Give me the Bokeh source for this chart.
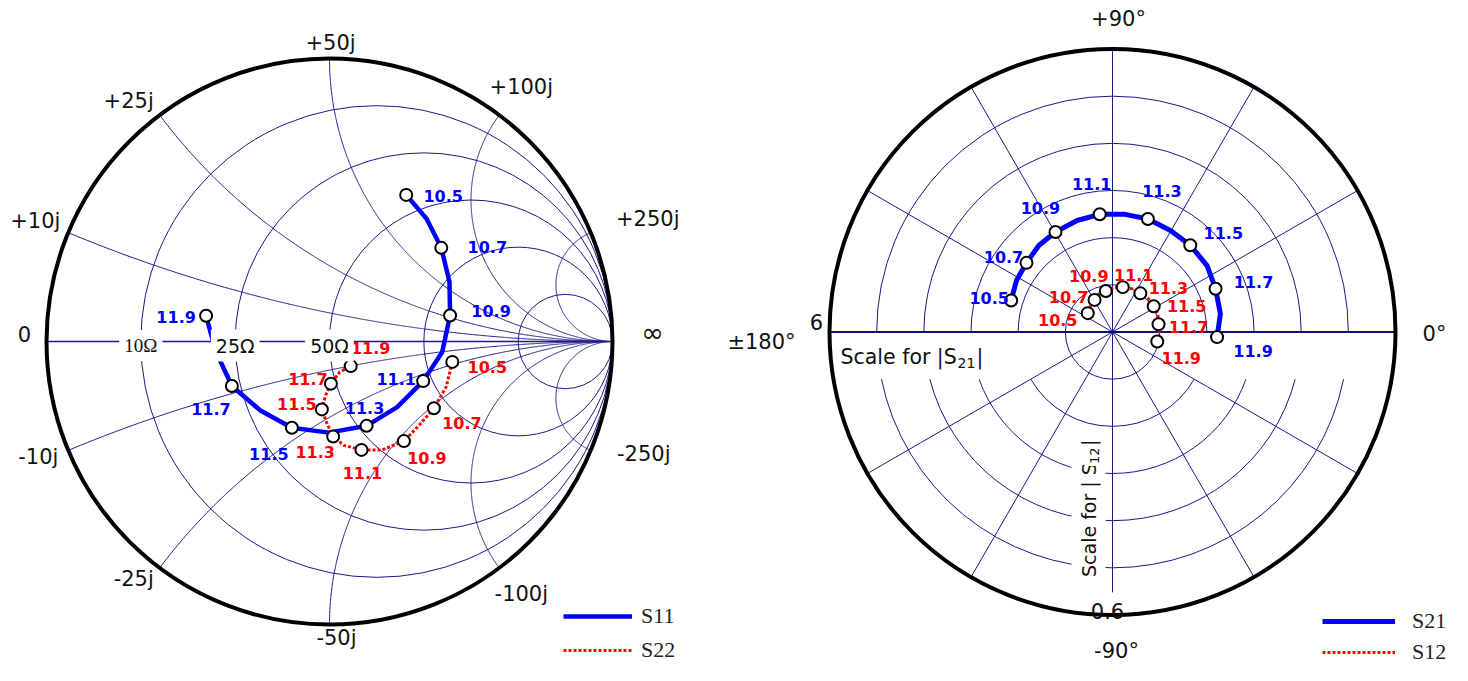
import numpy as np
from bokeh.plotting import figure
from bokeh.models import Range1d, Label, Legend, LegendItem
from bokeh.layouts import row
from bokeh.embed import file_html
from bokeh.resources import INLINE
from bokeh.core.properties import value

# ---------------- data ----------------
freq_ghz = [10.5, 10.6, 10.7, 10.8, 10.9, 11.0, 11.1, 11.2, 11.3, 11.4, 11.5, 11.6, 11.7, 11.8, 11.9]

# reflection coefficients (real / imaginary part of Gamma)
s11_re = [0.271, 0.343, 0.395, 0.424, 0.426, 0.398, 0.331, 0.239, 0.131, -0.002, -0.133, -0.244, -0.345, -0.403, -0.436]
s11_im = [0.518, 0.434, 0.331, 0.210, 0.092, -0.038, -0.140, -0.232, -0.298, -0.322, -0.305, -0.244, -0.157, -0.032, 0.091]
s22_re = [0.434, 0.413, 0.369, 0.316, 0.263, 0.186, 0.113, 0.051, 0.013, -0.011, -0.027, -0.014, 0.005, 0.036, 0.075]
s22_im = [-0.072, -0.159, -0.236, -0.297, -0.352, -0.383, -0.383, -0.367, -0.336, -0.285, -0.240, -0.191, -0.149, -0.108, -0.087]

# transmission coefficients (magnitude / angle in degrees)
s21_mag = [2.25, 2.31, 2.34, 2.41, 2.44, 2.48, 2.51, 2.51, 2.51, 2.48, 2.47, 2.45, 2.37, 2.32, 2.22]
s21_ang = [162.7, 151.8, 141.2, 130.4, 119.7, 107.6, 96.2, 84.5, 72.6, 60.3, 48.1, 35.1, 22.8, 9.6, -2.8]
s12_mag = [0.066, 0.073, 0.078, 0.086, 0.088, 0.094, 0.0975, 0.1007, 0.101, 0.104, 0.103, 0.103, 0.099, 0.0997, 0.097]
s12_ang = [142.7, 129.7, 119.2, 109.7, 99.3, 88.3, 77.1, 65.5, 54.2, 42.4, 32.0, 21.1, 9.6, -1.5, -12.0]

s21_full_scale = 6
s12_full_scale = 0.6

z0_ohm = 50
smith_r_ohm = [10, 25, 50, 100, 250]
smith_x_ohm = [10, 25, 50, 100, 250]
resistance_labels = ["10Ω", "25Ω", "50Ω"]
reactance_labels = ["+10j", "+25j", "+50j", "+100j", "+250j", "-10j", "-25j", "-50j", "-100j", "-250j"]
reactance_values = [10, 25, 50, 100, 250, -10, -25, -50, -100, -250]

polar_spokes_deg = [30, 60, 120, 150, 210, 240, 300, 330]
polar_ring_steps = [1, 2, 3, 4, 5]   # rings of the 6-step scale
polar_angle_labels = ["+90°", "-90°", "0°", "±180°"]
polar_angle_values = [90, -90, 0, 180]

# ---------------- layout / style ----------------
S = 283.0            # px per unit radius
H = 665
W1, W2 = 700, 752
CX1, CY1 = 329, 341
CX2, CY2 = 412, 331.5
PX = 1.0 / S

GRID = "#1a1a8a"
BLUE = "#0000ff"
RED = "#ff0000"
SANS = value("DejaVu Sans")


def make_fig(W, cx, cy):
    p = figure(width=W, height=H,
               x_range=Range1d(-cx / S, (W - cx) / S),
               y_range=Range1d(-(H - cy) / S, cy / S),
               output_backend="svg", toolbar_location=None, min_border=0,
               x_axis_location=None, y_axis_location=None)
    p.grid.visible = False
    p.outline_line_color = None
    p.background_fill_color = "white"
    p.border_fill_color = "white"
    return p


def place(x, y, dx, dy):
    """data anchor + pixel offset (dx right, dy down)"""
    return x + dx * PX, y - dy * PX


# ======================= Smith chart =======================
p1 = make_fig(W1, CX1, CY1)

rn = np.array(smith_r_ohm, dtype=float) / z0_ohm
p1.circle(x=(rn / (1 + rn)).tolist(), y=[0] * len(rn), radius=(1 / (1 + rn)).tolist(),
          fill_color=None, line_color=GRID, line_width=1)

rs = np.concatenate([np.linspace(0, 2, 400), np.geomspace(2, 20000, 800)])
xl, yl = [], []
for xo in smith_x_ohm:
    for sgn in (1, -1):
        z = rs + 1j * sgn * xo / z0_ohm
        g = (z - 1) / (z + 1)
        xl.append(g.real.tolist())
        yl.append(g.imag.tolist())
p1.multi_line(xl, yl, line_color=GRID, line_width=1)
p1.line([-1, 1], [0, 0], line_color=GRID, line_width=1.3)
p1.circle(x=[0], y=[0], radius=1, fill_color=None, line_color="black", line_width=4)

# resistance labels with white background on the real axis
for lab, r in zip(resistance_labels, rn[:3]):
    gx = (r - 1) / (r + 1)
    fnt = "Liberation Serif" if lab.startswith("10") else "DejaVu Sans"
    lx, ly = place(gx, 0, 0, 4)
    p1.add_layout(Label(x=lx, y=ly, text=lab, text_align="center", text_baseline="middle",
                        text_font=fnt, text_font_size="19px", text_color="#111111",
                        background_fill_color="white", background_fill_alpha=1.0, padding=5))

# reactance labels round the rim
react_off = [(-33, -12), (-31, -14), (1, -16), (22, -28), (57, -14),
             (-30, 7), (-26, 11), (7, 13), (22, 26), (53, 4)]
tx, ty = [], []
for xv, (dx, dy) in zip(reactance_values, react_off):
    xn = xv / z0_ohm
    bx, by = (xn ** 2 - 1) / (xn ** 2 + 1), 2 * xn / (xn ** 2 + 1)
    a, b = place(bx, by, dx, dy)
    tx.append(a); ty.append(b)
p1.text(x=tx, y=ty, text=reactance_labels, text_align="center", text_baseline="middle",
        text_font=SANS, text_font_size="21px", text_color="#111111")
ex = place(-1, 0, -22, -8)
p1.text(x=[ex[0]], y=[ex[1]], text=["0"], text_align="center",
        text_baseline="middle", text_font=SANS, text_font_size="21px", text_color="#111111")
ei = place(1, 0, 40, -9)
p1.text(x=[ei[0]], y=[ei[1]], text=["∞"], text_align="center",
        text_baseline="middle", text_font=SANS, text_font_size="27px", text_color="#111111")

# traces
r11 = p1.line(s11_re, s11_im, line_color=BLUE, line_width=4.5)
r22 = p1.line(s22_re, s22_im, line_color=RED, line_width=3, line_dash="3 2")

mk = [i for i, f in enumerate(freq_ghz) if int(round(f * 10)) % 2 == 1]
mk_lab = [f"{freq_ghz[i]:.1f}" for i in mk]

s11_off = [(37, 1), (46, -1), (41, -4), (-27, -2), (-2, -18), (-23, 26), (-21, 23), (-30, 1)]
s22_off = [(35, 5), (28, 15), (23, 17), (1, 23), (-18, 15), (-25, -5), (-23, -5), (20, -18)]


def draw_labels(p, xs, ys, offs, color):
    pts = [place(xs[i], ys[i], dx, dy) for i, (dx, dy) in zip(mk, offs)]
    p.text(x=[q[0] for q in pts], y=[q[1] for q in pts], text=mk_lab, text_align="center",
           text_baseline="middle", text_font=SANS, text_font_style="bold",
           text_font_size="16px", text_color=color)


for xs, ys in ((s11_re, s11_im), (s22_re, s22_im)):
    p1.scatter([xs[i] for i in mk], [ys[i] for i in mk], marker="circle", size=12,
               fill_color="white", line_color="black", line_width=2)
draw_labels(p1, s11_re, s11_im, s11_off, BLUE)
draw_labels(p1, s22_re, s22_im, s22_off, RED)

leg1 = Legend(items=[LegendItem(label="S11", renderers=[r11]), LegendItem(label="S22", renderers=[r22])],
              location=(563, 2), orientation="vertical", glyph_width=69, glyph_height=20,
              label_height=20, label_standoff=9, spacing=8, padding=0, margin=0,
              border_line_color=None, background_fill_alpha=0,
              label_text_font="Liberation Serif", label_text_font_size="22px",
              label_text_color="#222222")
p1.add_layout(leg1)

# ======================= Polar chart =======================
p2 = make_fig(W2, CX2, CY2)
nsteps = 6
ring_r = [k / nsteps for k in polar_ring_steps]
p2.arc(x=[0] * len(ring_r), y=[0] * len(ring_r), radius=ring_r, start_angle=0, end_angle=np.pi,
       line_color=GRID, line_width=1)
gap = 1 / nsteps
low_start, low_end = [], []
for rr in ring_r:
    a0 = np.arcsin(min(gap / rr, 1.0)) if rr > gap + 1e-9 else 0.0
    low_start.append(np.pi + a0)
    low_end.append(2 * np.pi - a0)
p2.arc(x=[0] * len(ring_r), y=[0] * len(ring_r), radius=ring_r, start_angle=low_start,
       end_angle=low_end, line_color=GRID, line_width=1)

sp = np.deg2rad(polar_spokes_deg)
p2.multi_line([[0, float(np.cos(a))] for a in sp], [[0, float(np.sin(a))] for a in sp],
              line_color=GRID, line_width=1)
p2.line([0, 0], [0, 1], line_color=GRID, line_width=1)
p2.line([0, 0], [0, -0.92], line_color=GRID, line_width=1)
p2.line([-1, 1], [0, 0], line_color="#10107a", line_width=2)
p2.circle(x=[0], y=[0], radius=1, fill_color=None, line_color="black", line_width=4)

u21 = (np.array(s21_mag) / s21_full_scale * np.cos(np.deg2rad(s21_ang))).tolist()
v21 = (np.array(s21_mag) / s21_full_scale * np.sin(np.deg2rad(s21_ang))).tolist()
u12 = (np.array(s12_mag) / s12_full_scale * np.cos(np.deg2rad(s12_ang))).tolist()
v12 = (np.array(s12_mag) / s12_full_scale * np.sin(np.deg2rad(s12_ang))).tolist()

r21 = p2.line(u21, v21, line_color=BLUE, line_width=5)
r12 = p2.line(u12, v12, line_color=RED, line_width=3, line_dash="3 2")
for xs, ys in ((u21, v21), (u12, v12)):
    p2.scatter([xs[i] for i in mk], [ys[i] for i in mk], marker="circle", size=12,
               fill_color="white", line_color="black", line_width=2)
s21_off = [(-22, -2), (-23, -6), (-15, -24), (-8, -30), (14, -28), (33, -12), (38, -7), (36, 14)]
s12_off = [(-30, 7), (-26, -3), (-17, -15), (11, -12), (28, -5), (33, 0), (30, 3), (24, 16)]
draw_labels(p2, u21, v21, s21_off, BLUE)
draw_labels(p2, u12, v12, s12_off, RED)

ang_off = [(6, -30), (4, 36), (39, 2), (-68, 10)]
ax_, ay_ = [], []
for av, (dx, dy) in zip(polar_angle_values, ang_off):
    a, b = place(np.cos(np.deg2rad(av)), np.sin(np.deg2rad(av)), dx, dy)
    ax_.append(a); ay_.append(b)
p2.text(x=ax_, y=ay_, text=polar_angle_labels, text_align="center", text_baseline="middle",
        text_font=SANS, text_font_size="21px", text_color="#111111")

sc = [place(-1, 0, -13, -10), place(0, -1, -5, -4)]
p2.text(x=[q[0] for q in sc], y=[q[1] for q in sc], text=[str(s21_full_scale), str(s12_full_scale)],
        text_align="center", text_baseline="middle", text_font=SANS, text_font_size="21px",
        text_color="#111111")

# "Scale for |S21|"
a, b = place(-1, 0, 11, 25)
p2.text(x=[a], y=[b], text=["Scale for |S"], text_align="left", text_baseline="middle",
        text_font=SANS, text_font_size="20.5px", text_color="#111111")
a, b = place(-1, 0, 128, 31)
p2.text(x=[a], y=[b], text=["21"], text_align="left", text_baseline="middle",
        text_font=SANS, text_font_size="14px", text_color="#111111")
a, b = place(-1, 0, 147, 25)
p2.text(x=[a], y=[b], text=["|"], text_align="left", text_baseline="middle",
        text_font=SANS, text_font_size="20.5px", text_color="#111111")

# "Scale for | S12 |" (vertical)
a, b = place(0, -1, -24, -32)
p2.add_layout(Label(x=a, y=b, text="Scale for | S", angle=np.pi / 2, text_align="left",
                    text_baseline="middle", text_font="DejaVu Sans", text_font_size="19px",
                    text_color="#111111", background_fill_color="white", background_fill_alpha=1.0,
                    padding=6))
a, b = place(0, -1, -18, -149)
p2.add_layout(Label(x=a, y=b, text="12", angle=np.pi / 2, text_align="left",
                    text_baseline="middle", text_font="DejaVu Sans", text_font_size="13px",
                    text_color="#111111", background_fill_color="white", background_fill_alpha=1.0,
                    padding=2))
a, b = place(0, -1, -24, -166)
p2.add_layout(Label(x=a, y=b, text=" |", angle=np.pi / 2, text_align="left",
                    text_baseline="middle", text_font="DejaVu Sans", text_font_size="19px",
                    text_color="#111111", background_fill_color="white", background_fill_alpha=1.0,
                    padding=3))

leg2 = Legend(items=[LegendItem(label="S21", renderers=[r21]), LegendItem(label="S12", renderers=[r12])],
              location=(622, 0), orientation="vertical", glyph_width=73, glyph_height=20,
              label_height=20, label_standoff=17, spacing=5, padding=0, margin=0,
              border_line_color=None, background_fill_alpha=0,
              label_text_font="Liberation Serif", label_text_font_size="22px",
              label_text_color="#222222")
p2.add_layout(leg2)

layout = row(p1, p2)
open("out.html", "w").write(file_html(layout, INLINE))
